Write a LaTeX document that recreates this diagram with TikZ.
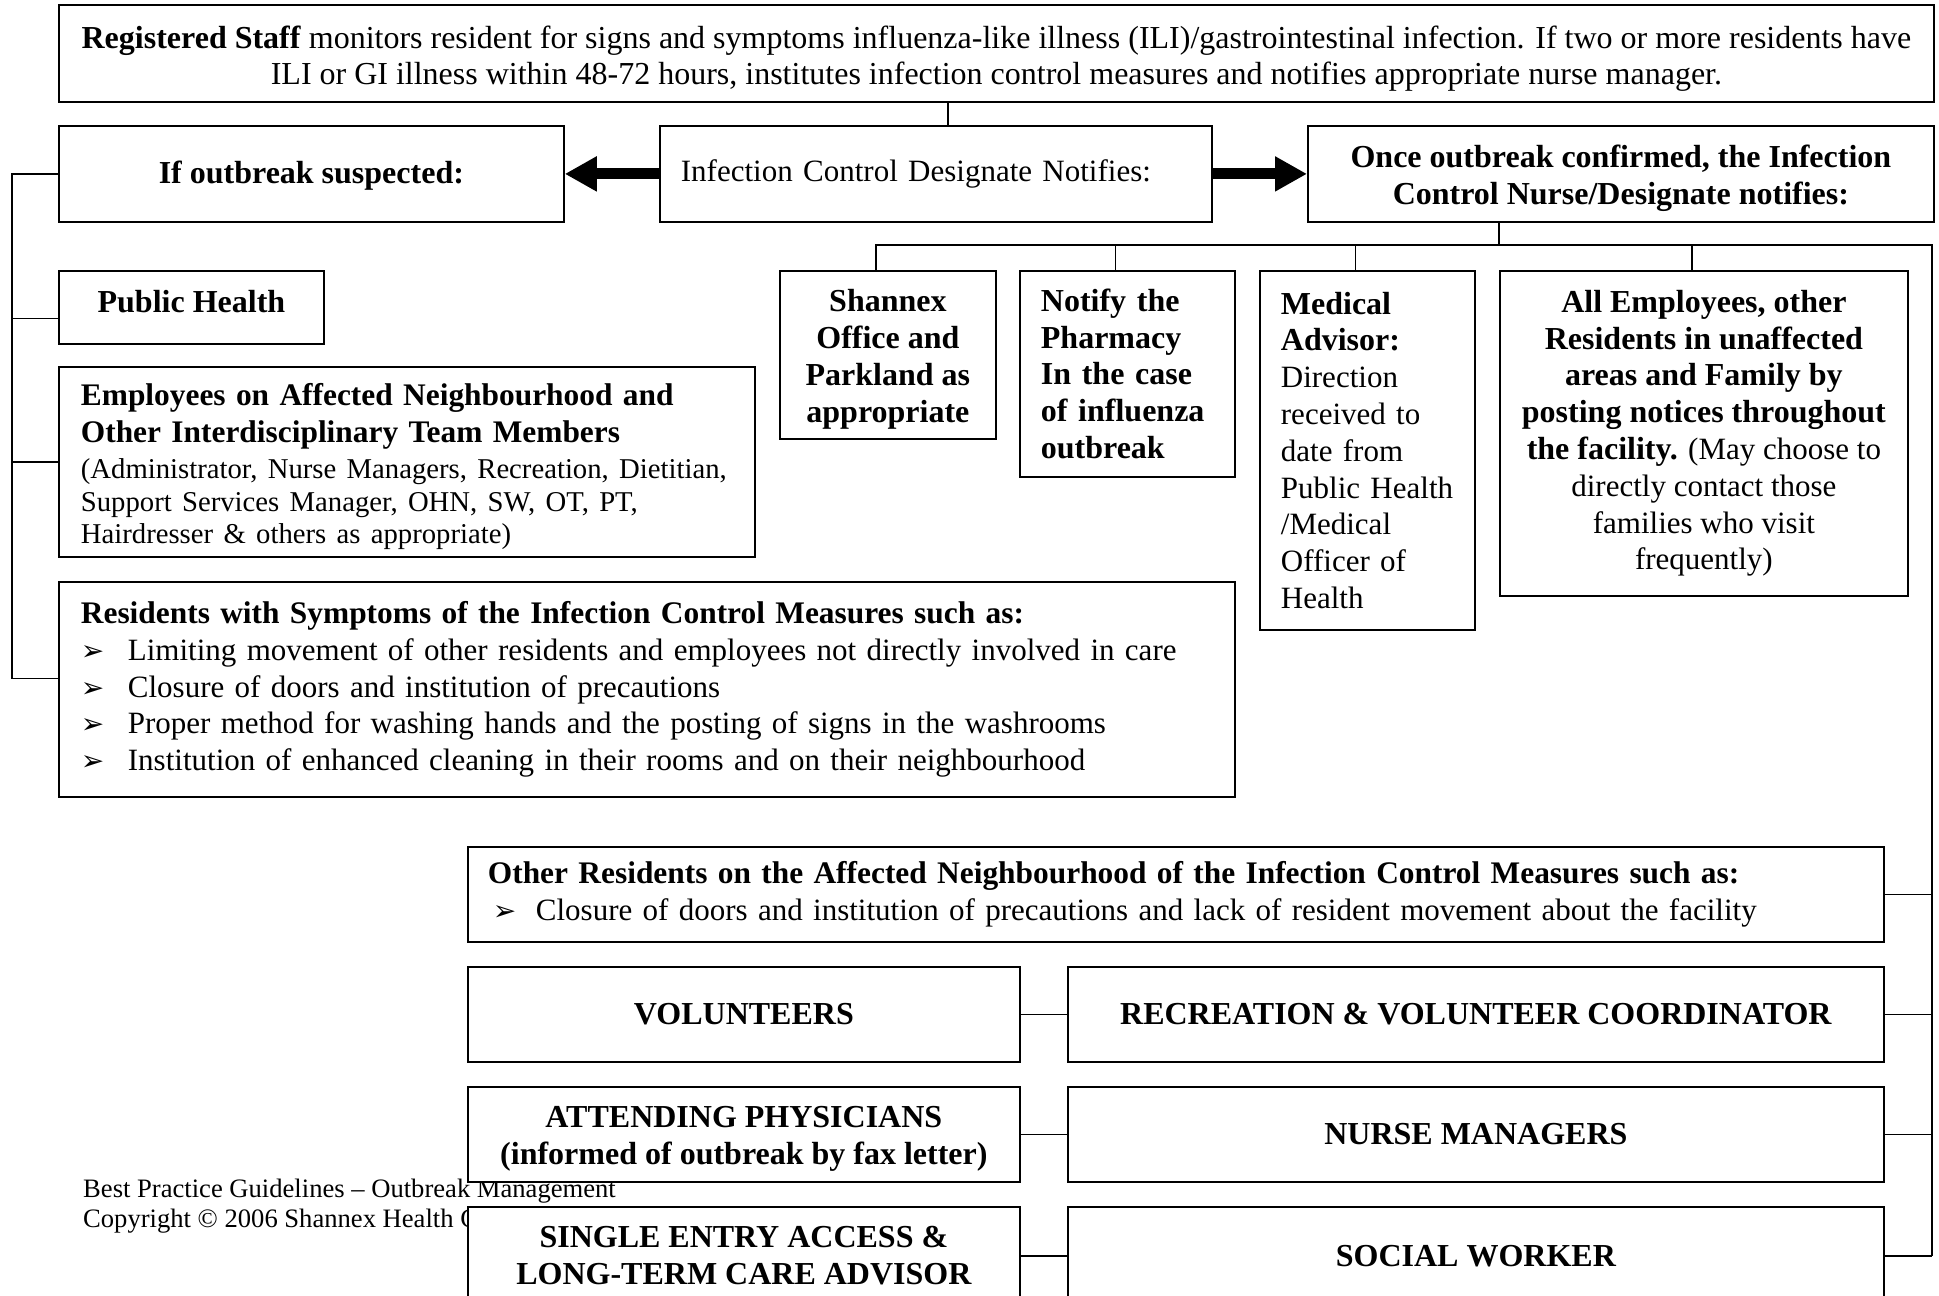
\documentclass[tikz,border=0pt]{standalone}
\usepackage{fontspec}
\setmainfont{Liberation Serif}
\newfontfamily\dejavu{DejaVu Sans}
\usetikzlibrary{arrows.meta}
\newcommand\msz{\fontsize{31pt}{36.8pt}\selectfont}
\newcommand\hsz{\fontsize{31.4pt}{36.8pt}\selectfont}
\newcommand\bsz{\fontsize{32pt}{36.8pt}\selectfont}
\newcommand\ssz{\fontsize{28.7pt}{32.8pt}\selectfont}
\newcommand\fsz{\fontsize{26.6pt}{31pt}\selectfont}
\newcommand\bb[1]{{\bsz\bfseries #1}}
\newcommand\hb[1]{{\hsz\bfseries #1}}
\newcommand\arrowglyph{{\dejavu\fontsize{28pt}{28pt}\selectfont ➢}}
\newcommand\arrowitem[3]{\mbox{\hspace*{#1}\makebox[#2][l]{\arrowglyph}#3}}
\newcommand\dn[1]{\rule{0pt}{#1}}
\newcommand\upx[1]{\rule[-#1]{0pt}{#1}}
\begin{document}
\begin{tikzpicture}[x=1pt,y=-1pt,
  bx/.style={draw, line width=1.8pt, fill=white, inner sep=0pt, anchor=north west, font=\msz},
  lbx/.style={bx, align=left},
  cbx/.style={bx, align=center},
  bold/.style={font=\bsz\bfseries},
  cn/.style={line width=1.4pt},
  fat/.style={line width=11pt, -{Triangle[length=32pt,width=33pt]}},
  foot/.style={anchor=west, inner sep=0pt, font=\fsz}]
\path[use as bounding box] (0,0) rectangle (1939,1296);
% footer (partly covered by the boxes)
\node[foot] (f1) at (83,1191) {Best Practice Guidelines – Outbreak Management};
\node[foot] (f2) at (83,1221) {Copyright © 2006 Shannex Health Care};
% top
\node[cbx, minimum width=1875pt, minimum height=97pt, font=\bsz] (top) at (58,4) {\dn{33pt}\textbf{Registered Staff} monitors resident for signs and symptoms influenza-like illness (ILI)/gastrointestinal infection. If two or more residents have\\ILI or GI illness within 48-72 hours, institutes infection control measures and notifies appropriate nurse manager.};
% row 2
\node[cbx, bold, minimum width=505pt, minimum height=96pt] (ios) at (58,125) {\dn{27pt}If outbreak suspected:};
\node[lbx, minimum width=552pt, minimum height=96pt, inner xsep=21pt, text width=510pt] (icd) at (659,125) {Infection Control Designate Notifies:};
\node[cbx, bold, minimum width=626pt, minimum height=96pt] (ocf) at (1307,125) {\dn{31pt}Once outbreak confirmed, the Infection\\Control Nurse/Designate notifies:};
% left column
\node[cbx, bold, minimum width=265pt, minimum height=73pt] (pub) at (58,270) {Public Health\upx{13pt}};
\node[lbx, minimum width=696pt, minimum height=190pt, inner xsep=22pt, text width=652pt] (emp) at (58,366) {\dn{32pt}\mbox{\hb{Employees on Affected Neighbourhood and}}\\\mbox{\hb{Other Interdisciplinary Team Members}}\par\vspace{3pt}{\ssz\mbox{(Administrator, Nurse Managers, Recreation, Dietitian,}\\\mbox{Support Services Manager, OHN, SW, OT, PT,}\\\mbox{Hairdresser \& others as appropriate)}\par}};
\node[lbx, minimum width=1176pt, minimum height=215pt, inner xsep=22pt, text width=1132pt] (res) at (58,581) {\mbox{\hb{Residents with Symptoms of the Infection Control Measures such as:}}\\\arrowitem{0pt}{47pt}{Limiting movement of other residents and employees not directly involved in care}\\\arrowitem{0pt}{47pt}{Closure of doors and institution of precautions}\\\arrowitem{0pt}{47pt}{Proper method for washing hands and the posting of signs in the washrooms}\\\arrowitem{0pt}{47pt}{Institution of enhanced cleaning in their rooms and on their neighbourhood}};
% right column
\node[cbx, bold, minimum width=216pt, minimum height=168pt] (shx) at (779,270) {\dn{31pt}Shannex\\Office and\\Parkland as\\appropriate};
\node[lbx, bold, minimum width=215pt, minimum height=206pt, inner xsep=21pt, text width=173pt] (pha) at (1019,270) {\mbox{Notify the}\\\mbox{Pharmacy}\\\mbox{In the case}\\\mbox{of influenza}\\\mbox{outbreak}};
\node[lbx, minimum width=215pt, minimum height=359pt, inner xsep=21pt, text width=173pt] (med) at (1259,270) {\mbox{\bb{Medical}}\\\mbox{\bb{Advisor:}}\\\mbox{Direction}\\\mbox{received to}\\\mbox{date from}\\\mbox{Public Health}\\\mbox{/Medical}\\\mbox{Officer of}\\\mbox{Health}};
\node[cbx, minimum width=408pt, minimum height=325pt] (all) at (1499,270) {\bb{All Employees, other}\\\bb{Residents in unaffected}\\\bb{areas and Family by}\\\bb{posting notices throughout}\\\bb{the facility.} (May choose to\\directly contact those\\families who visit\\frequently)};
% lower block
\node[lbx, minimum width=1416pt, minimum height=95pt, inner xsep=20pt, text width=1376pt] (oth) at (467,846) {\mbox{\hb{Other Residents on the Affected Neighbourhood of the Infection Control Measures such as:}}\\\arrowitem{5pt}{43pt}{Closure of doors and institution of precautions and lack of resident movement about the facility}};
\node[cbx, bold, minimum width=552pt, minimum height=95pt] (vol) at (467,966) {VOLUNTEERS};
\node[cbx, bold, minimum width=816pt, minimum height=95pt] (rec) at (1067,966) {RECREATION \& VOLUNTEER COORDINATOR};
\node[cbx, bold, minimum width=552pt, minimum height=95pt] (att) at (467,1086) {\dn{30pt}ATTENDING PHYSICIANS\\(informed of outbreak by fax letter)};
\node[cbx, bold, minimum width=816pt, minimum height=95pt] (nm) at (1067,1086) {NURSE MANAGERS};
\node[cbx, bold, minimum width=552pt, minimum height=98pt] (sea) at (467,1206) {SINGLE ENTRY ACCESS \&\\LONG-TERM CARE ADVISOR};
\node[cbx, bold, minimum width=816pt, minimum height=98pt] (sw) at (1067,1206) {SOCIAL WORKER};
% connectors
\draw[cn] ([xshift=12pt]icd.north) -- ([xshift=12pt]icd.north |- top.south);
\draw[fat] (icd.west) -- (ios.east);
\draw[fat] (icd.east) -- (ocf.west);
\coordinate (lbus) at (12,0);
\coordinate (ptk) at ([yshift=-11pt]pub.west);
\coordinate (etk) at (emp.west);
\coordinate (rtk) at ([yshift=11pt]res.west);
\draw[cn] (ios.west) -| (lbus |- rtk) -- (rtk);
\draw[cn] (ptk) -- (ptk -| lbus);
\draw[cn] (etk) -- (etk -| lbus);
\coordinate (busy) at (0,245);
\coordinate (rbus) at (1932,245);
\draw[cn] (ocf.south -| all.west) -- (all.west |- busy);
\draw[cn] ([xshift=-12pt]shx.north) |- (rbus) -- (rbus |- sw.east);
\foreach \n in {pha,med,all} \draw[cn] ([xshift=-12pt]\n.north) -- ([xshift=-12pt]\n.north |- busy);
\foreach \n in {oth,rec,nm,sw} \draw[cn] (\n.east) -- (\n.east -| rbus);
\draw[cn] (vol.east) -- (rec.west);
\draw[cn] (att.east) -- (nm.west);
\draw[cn] (sea.east) -- (sw.west);
\end{tikzpicture}
\end{document}
